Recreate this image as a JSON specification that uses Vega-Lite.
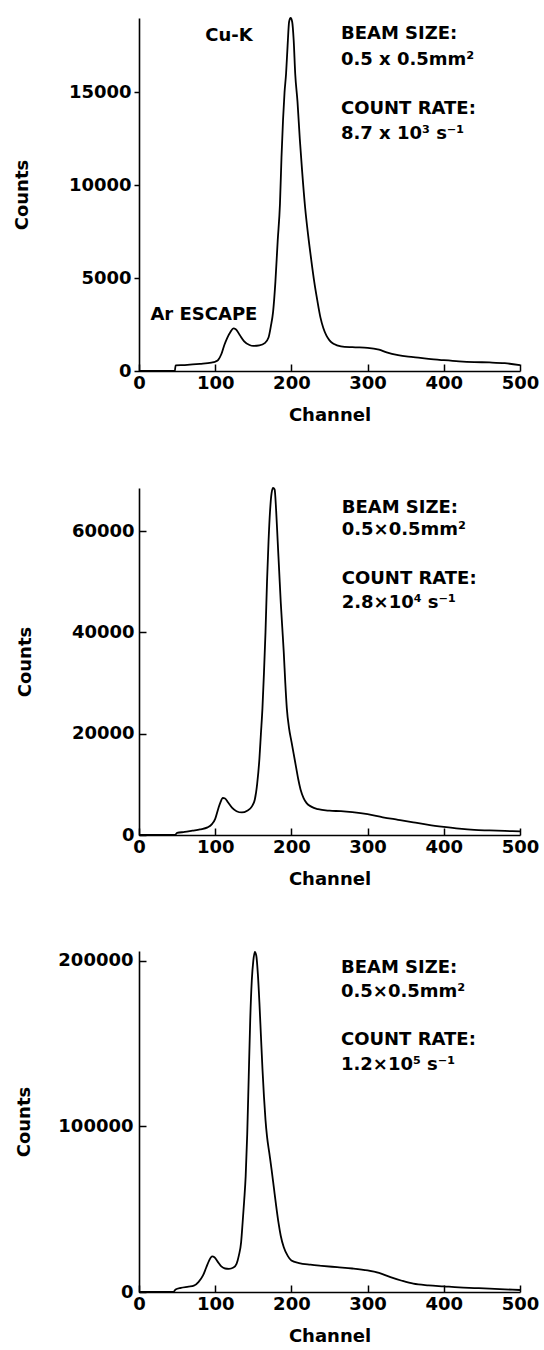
{
  "$schema": "https://vega.github.io/schema/vega-lite/v6.json",
  "padding": {"left": 13, "top": 14, "right": 5, "bottom": 5},
  "background": "white",
  "spacing": 60,
  "config": {
    "view": {"stroke": null},
    "font": "DejaVu Sans",
    "axis": {
      "labelFont": "DejaVu Sans", "labelFontWeight": "bold", "labelFontSize": 18, "labelColor": "black",
      "titleFont": "DejaVu Sans", "titleFontWeight": "bold", "titleFontSize": 18, "titleColor": "black",
      "domainColor": "black", "domainWidth": 1.6, "tickColor": "black", "tickWidth": 1.5,
      "grid": false, "labelFlush": false, "labelOverlap": false
    }
  },
  "resolve": {"scale": {"x": "independent", "y": "independent"}},
  "datasets": {
    "p1": [
      {"channel": 0, "counts": 0}, {"channel": 47, "counts": 0}, {"channel": 48, "counts": 300}, {"channel": 60, "counts": 320},
      {"channel": 80, "counts": 380}, {"channel": 95, "counts": 450}, {"channel": 100, "counts": 500}, {"channel": 104, "counts": 600},
      {"channel": 108, "counts": 900}, {"channel": 112, "counts": 1400}, {"channel": 116, "counts": 1800}, {"channel": 120, "counts": 2100},
      {"channel": 124, "counts": 2290}, {"channel": 127, "counts": 2250}, {"channel": 132, "counts": 1950}, {"channel": 138, "counts": 1600},
      {"channel": 145, "counts": 1400}, {"channel": 150, "counts": 1350}, {"channel": 158, "counts": 1380}, {"channel": 165, "counts": 1500},
      {"channel": 170, "counts": 1800}, {"channel": 173, "counts": 2400}, {"channel": 176, "counts": 3200}, {"channel": 179, "counts": 4800},
      {"channel": 182, "counts": 7000}, {"channel": 185, "counts": 9000}, {"channel": 187, "counts": 11500}, {"channel": 189, "counts": 13500},
      {"channel": 191, "counts": 15000}, {"channel": 193, "counts": 16000}, {"channel": 195, "counts": 17500}, {"channel": 197, "counts": 18800},
      {"channel": 199, "counts": 19000}, {"channel": 201, "counts": 18800}, {"channel": 203, "counts": 17800}, {"channel": 205, "counts": 16000},
      {"channel": 208, "counts": 14500}, {"channel": 211, "counts": 12500}, {"channel": 214, "counts": 10800}, {"channel": 218, "counts": 8800},
      {"channel": 222, "counts": 7300}, {"channel": 226, "counts": 6000}, {"channel": 230, "counts": 4800}, {"channel": 234, "counts": 3800},
      {"channel": 238, "counts": 2900}, {"channel": 242, "counts": 2300}, {"channel": 246, "counts": 1900}, {"channel": 250, "counts": 1650},
      {"channel": 256, "counts": 1450}, {"channel": 265, "counts": 1330}, {"channel": 280, "counts": 1280}, {"channel": 300, "counts": 1250},
      {"channel": 315, "counts": 1150}, {"channel": 325, "counts": 1000}, {"channel": 340, "counts": 850}, {"channel": 360, "counts": 750},
      {"channel": 380, "counts": 650}, {"channel": 400, "counts": 580}, {"channel": 420, "counts": 520}, {"channel": 440, "counts": 480},
      {"channel": 460, "counts": 460}, {"channel": 480, "counts": 420}, {"channel": 500, "counts": 320}
    ],
    "p2": [
      {"channel": 0, "counts": 0}, {"channel": 47, "counts": 0}, {"channel": 50, "counts": 400}, {"channel": 60, "counts": 600},
      {"channel": 70, "counts": 850}, {"channel": 80, "counts": 1100}, {"channel": 90, "counts": 1500}, {"channel": 96, "counts": 2200},
      {"channel": 100, "counts": 3200}, {"channel": 104, "counts": 5200}, {"channel": 107, "counts": 6500}, {"channel": 110, "counts": 7300},
      {"channel": 113, "counts": 7200}, {"channel": 117, "counts": 6400}, {"channel": 122, "counts": 5400}, {"channel": 128, "counts": 4700},
      {"channel": 135, "counts": 4450}, {"channel": 142, "counts": 4800}, {"channel": 148, "counts": 5600}, {"channel": 152, "counts": 7000},
      {"channel": 155, "counts": 10000}, {"channel": 158, "counts": 15000}, {"channel": 160, "counts": 20000}, {"channel": 162, "counts": 25000},
      {"channel": 164, "counts": 32000}, {"channel": 166, "counts": 40000}, {"channel": 168, "counts": 50000}, {"channel": 170, "counts": 58000},
      {"channel": 172, "counts": 64000}, {"channel": 174, "counts": 67500}, {"channel": 176, "counts": 68500}, {"channel": 178, "counts": 68200},
      {"channel": 180, "counts": 64000}, {"channel": 182, "counts": 58000}, {"channel": 184, "counts": 52000}, {"channel": 186, "counts": 46000},
      {"channel": 188, "counts": 41000}, {"channel": 190, "counts": 36000}, {"channel": 192, "counts": 30000}, {"channel": 194, "counts": 25000},
      {"channel": 197, "counts": 21000}, {"channel": 200, "counts": 18500}, {"channel": 203, "counts": 16000}, {"channel": 206, "counts": 13500},
      {"channel": 209, "counts": 11000}, {"channel": 212, "counts": 9000}, {"channel": 216, "counts": 7300}, {"channel": 220, "counts": 6300},
      {"channel": 226, "counts": 5600}, {"channel": 235, "counts": 5100}, {"channel": 250, "counts": 4800}, {"channel": 265, "counts": 4700},
      {"channel": 280, "counts": 4500}, {"channel": 300, "counts": 4100}, {"channel": 320, "counts": 3500}, {"channel": 340, "counts": 3000},
      {"channel": 360, "counts": 2500}, {"channel": 380, "counts": 2000}, {"channel": 400, "counts": 1600}, {"channel": 420, "counts": 1250},
      {"channel": 440, "counts": 1000}, {"channel": 460, "counts": 900}, {"channel": 480, "counts": 800}, {"channel": 500, "counts": 700}
    ],
    "p3": [
      {"channel": 0, "counts": 0}, {"channel": 45, "counts": 0}, {"channel": 48, "counts": 1500}, {"channel": 55, "counts": 2500},
      {"channel": 65, "counts": 3200}, {"channel": 72, "counts": 3800}, {"channel": 78, "counts": 6000}, {"channel": 84, "counts": 10000},
      {"channel": 88, "counts": 14500}, {"channel": 92, "counts": 19000}, {"channel": 96, "counts": 21500}, {"channel": 99, "counts": 21000},
      {"channel": 103, "counts": 18500}, {"channel": 108, "counts": 15500}, {"channel": 113, "counts": 14200}, {"channel": 118, "counts": 14000},
      {"channel": 124, "counts": 14800}, {"channel": 128, "counts": 17000}, {"channel": 131, "counts": 22000}, {"channel": 134, "counts": 30000},
      {"channel": 136, "counts": 42000}, {"channel": 138, "counts": 55000}, {"channel": 140, "counts": 70000}, {"channel": 142, "counts": 95000},
      {"channel": 144, "counts": 130000}, {"channel": 146, "counts": 165000}, {"channel": 148, "counts": 188000}, {"channel": 150, "counts": 200000},
      {"channel": 152, "counts": 205500}, {"channel": 154, "counts": 203000}, {"channel": 156, "counts": 192000}, {"channel": 158, "counts": 175000},
      {"channel": 160, "counts": 155000}, {"channel": 162, "counts": 135000}, {"channel": 164, "counts": 118000}, {"channel": 166, "counts": 104000},
      {"channel": 168, "counts": 94000}, {"channel": 171, "counts": 84000}, {"channel": 174, "counts": 74000}, {"channel": 177, "counts": 63000},
      {"channel": 180, "counts": 52000}, {"channel": 183, "counts": 42000}, {"channel": 186, "counts": 34000}, {"channel": 190, "counts": 27000},
      {"channel": 195, "counts": 22000}, {"channel": 200, "counts": 19000}, {"channel": 210, "counts": 17500}, {"channel": 225, "counts": 16500},
      {"channel": 240, "counts": 15800}, {"channel": 260, "counts": 15000}, {"channel": 280, "counts": 14200}, {"channel": 300, "counts": 13000},
      {"channel": 315, "counts": 11500}, {"channel": 330, "counts": 9000}, {"channel": 345, "counts": 6800}, {"channel": 360, "counts": 5000},
      {"channel": 380, "counts": 4000}, {"channel": 400, "counts": 3400}, {"channel": 420, "counts": 2800}, {"channel": 440, "counts": 2400},
      {"channel": 460, "counts": 2000}, {"channel": 480, "counts": 1600}, {"channel": 500, "counts": 1200}
    ],
    "a1": [
      {"channel": 265, "counts": 17880, "label": "BEAM SIZE:"},
      {"channel": 265, "counts": 16480, "label": "0.5 x 0.5mm²"},
      {"channel": 265, "counts": 13840, "label": "COUNT RATE:"},
      {"channel": 265, "counts": 12500, "label": "8.7 x 10³ s⁻¹"},
      {"channel": 87, "counts": 17785, "label": "Cu-K"},
      {"channel": 15, "counts": 2770, "label": "Ar ESCAPE"}
    ],
    "a2": [
      {"channel": 266, "counts": 63650, "label": "BEAM SIZE:"},
      {"channel": 266, "counts": 59270, "label": "0.5×0.5mm²"},
      {"channel": 266, "counts": 49490, "label": "COUNT RATE:"},
      {"channel": 266, "counts": 44770, "label": "2.8×10⁴ s⁻¹"}
    ],
    "a3": [
      {"channel": 265, "counts": 192600, "label": "BEAM SIZE:"},
      {"channel": 265, "counts": 178100, "label": "0.5×0.5mm²"},
      {"channel": 265, "counts": 149300, "label": "COUNT RATE:"},
      {"channel": 265, "counts": 134300, "label": "1.2×10⁵ s⁻¹"}
    ]
  },
  "vconcat": [
    {
      "width": 381, "height": 353,
      "layer": [
        {
          "data": {"name": "p1"},
          "mark": {"type": "line", "color": "black", "strokeWidth": 1.8, "interpolate": "monotone"},
          "encoding": {
            "x": {"field": "channel", "type": "quantitative", "scale": {"domain": [0, 500], "nice": false},
                  "axis": {"title": "Channel", "values": [0, 100, 200, 300, 400, 500], "tickSize": -7, "labelPadding": 10, "titlePadding": 14}},
            "y": {"field": "counts", "type": "quantitative", "scale": {"domain": [0, 19000], "nice": false},
                  "axis": {"title": "Counts", "values": [0, 5000, 10000, 15000], "format": "d", "tickSize": 5, "labelPadding": 3, "titlePadding": 37}}
          }
        },
        {
          "data": {"name": "a1"},
          "mark": {"type": "text", "align": "left", "baseline": "alphabetic", "font": "DejaVu Sans", "fontWeight": "bold", "fontSize": 18, "color": "black"},
          "encoding": {
            "x": {"field": "channel", "type": "quantitative"},
            "y": {"field": "counts", "type": "quantitative"},
            "text": {"field": "label"}
          }
        }
      ]
    },
    {
      "width": 381, "height": 347,
      "layer": [
        {
          "data": {"name": "p2"},
          "mark": {"type": "line", "color": "black", "strokeWidth": 1.8, "interpolate": "monotone"},
          "encoding": {
            "x": {"field": "channel", "type": "quantitative", "scale": {"domain": [0, 500], "nice": false},
                  "axis": {"title": "Channel", "values": [0, 100, 200, 300, 400, 500], "tickSize": -7, "labelPadding": 10, "titlePadding": 14}},
            "y": {"field": "counts", "type": "quantitative", "scale": {"domain": [0, 68500], "nice": false},
                  "axis": {"title": "Counts", "values": [0, 20000, 40000, 60000], "format": "d", "tickSize": -7, "labelPadding": 12, "titlePadding": 37}}
          }
        },
        {
          "data": {"name": "a2"},
          "mark": {"type": "text", "align": "left", "baseline": "alphabetic", "font": "DejaVu Sans", "fontWeight": "bold", "fontSize": 18, "color": "black"},
          "encoding": {
            "x": {"field": "channel", "type": "quantitative"},
            "y": {"field": "counts", "type": "quantitative"},
            "text": {"field": "label"}
          }
        }
      ]
    },
    {
      "width": 381, "height": 341,
      "layer": [
        {
          "data": {"name": "p3"},
          "mark": {"type": "line", "color": "black", "strokeWidth": 1.8, "interpolate": "monotone"},
          "encoding": {
            "x": {"field": "channel", "type": "quantitative", "scale": {"domain": [0, 500], "nice": false},
                  "axis": {"title": "Channel", "values": [0, 100, 200, 300, 400, 500], "tickSize": -7, "labelPadding": 10, "titlePadding": 14}},
            "y": {"field": "counts", "type": "quantitative", "scale": {"domain": [0, 206000], "nice": false},
                  "axis": {"title": "Counts", "values": [0, 100000, 200000], "format": "d", "tickSize": -7, "labelPadding": 13, "titlePadding": 24}}
          }
        },
        {
          "data": {"name": "a3"},
          "mark": {"type": "text", "align": "left", "baseline": "alphabetic", "font": "DejaVu Sans", "fontWeight": "bold", "fontSize": 18, "color": "black"},
          "encoding": {
            "x": {"field": "channel", "type": "quantitative"},
            "y": {"field": "counts", "type": "quantitative"},
            "text": {"field": "label"}
          }
        }
      ]
    }
  ]
}
